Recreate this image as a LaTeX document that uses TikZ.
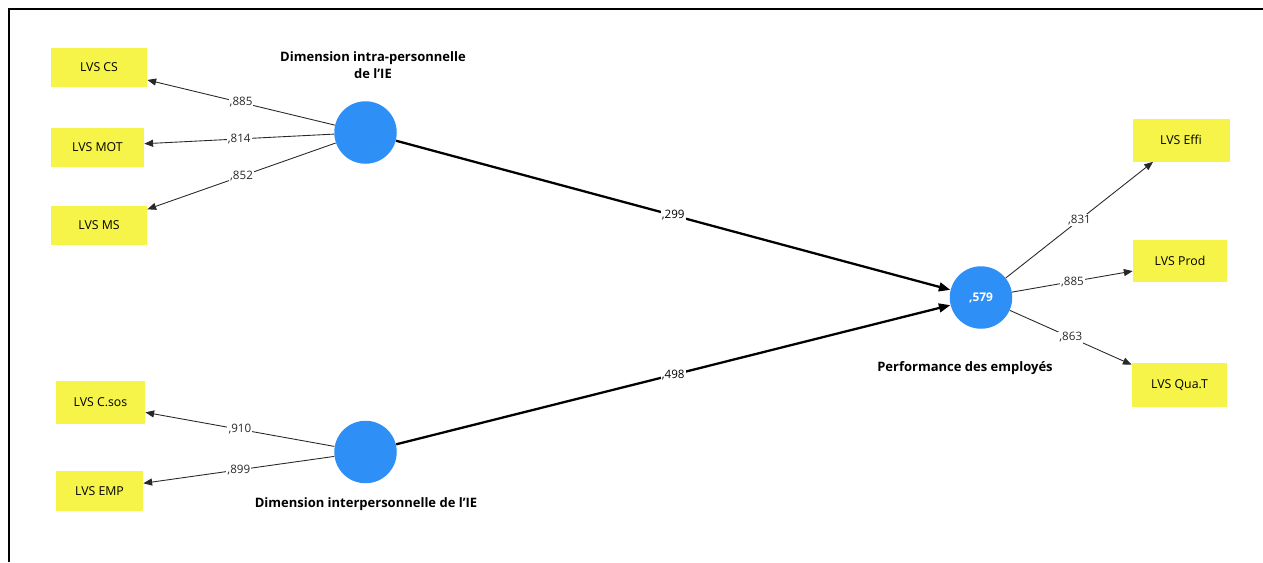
\documentclass[tikz,border=0pt]{standalone}
\usepackage{fontspec}
\setmainfont{Open Sans}
\usepackage{xcolor}
\definecolor{lvsyellow}{RGB}{246,244,72}
\definecolor{lvblue}{RGB}{46,144,246}
\definecolor{linegray}{RGB}{40,40,40}
\usetikzlibrary{arrows.meta, positioning}

\begin{document}
\begin{tikzpicture}[x=0.02cm, y=-0.02cm,
    indbox/.style={fill=lvsyellow, inner sep=0pt, minimum height=0.78cm, font=\fontsize{7}{8}\selectfont},
    latent/.style={circle, fill=lvblue, minimum size=1.25cm, inner sep=0pt},
    loadarrow/.style={-{Triangle[length=5pt,width=4pt]}, linegray, line width=0.5pt},
    patharrow/.style={-{Triangle[length=6.5pt,width=5pt]}, black, line width=1.3pt},
    coef/.style={midway, fill=white, inner sep=0.6pt, font=\fontsize{6.6}{7}\selectfont},
    title/.style={font=\fontsize{7.4}{9.6}\selectfont\bfseries, align=center}]
      \useasboundingbox (0,0) rectangle (1263,562);
      % frame
      \draw[line width=1.1pt] (9,562) -- (9,9) -- (1263,9);
      % indicator boxes, left
      \node[indbox, minimum width=1.92cm] (cs) at (99,67) {LVS CS};
      \node[indbox, minimum width=1.86cm] (mot) at (97.5,147) {LVS MOT};
      \node[indbox, minimum width=1.92cm] (ms) at (99,225) {LVS MS};
      \node[indbox, minimum width=1.78cm, minimum height=0.86cm] (csos) at (100.5,402) {LVS C.sos};
      \node[indbox, minimum width=1.74cm, minimum height=0.8cm] (emp) at (99.5,491) {LVS EMP};
      % indicator boxes, right
      \node[indbox, minimum width=1.94cm, minimum height=0.86cm] (effi) at (1181,140) {LVS Effi};
      \node[indbox, minimum width=1.88cm, minimum height=0.84cm] (prod) at (1180,261) {LVS Prod};
      \node[indbox, minimum width=1.9cm, minimum height=0.88cm] (quat) at (1179.5,385) {LVS Qua.T};
      % latent variables
      \node[latent] (intra) at (365.5,132.5) {};
      \node[latent] (inter) at (365.5,452) {};
      \node[latent, text=white, font=\fontsize{6.8}{8}\selectfont\bfseries] (perf) at (981,297.5) {,579};
      \node[title] (intralbl) at (373,65.5) {Dimension intra-personnelle\\de l'IE};
      \node[title] (interlbl) at (366,504) {Dimension interpersonnelle de l'IE};
      \node[title] (perflbl) at (965,368) {Performance des employés};
      % outer loadings
      \draw[loadarrow] (intra) -- (cs.-15) node[coef] {,885};
      \draw[loadarrow] (intra) -- (mot.4) node[coef] {,814};
      \draw[loadarrow] (intra) -- (ms.18) node[coef] {,852};
      \draw[loadarrow] (inter) -- (csos.-13) node[coef] {,910};
      \draw[loadarrow] (inter) -- (emp.10) node[coef] {,899};
      \draw[loadarrow] (perf) -- (effi.218) node[coef] {,831};
      \draw[loadarrow] (perf) -- (prod.192) node[coef] {,885};
      \draw[loadarrow] (perf) -- (quat.157) node[coef] {,863};
      % path coefficients
      \draw[patharrow] (intra) -- (perf.166) node[coef] {,299};
      \draw[patharrow] (inter) -- (perf.194) node[coef] {,498};
\end{tikzpicture}
\end{document}
